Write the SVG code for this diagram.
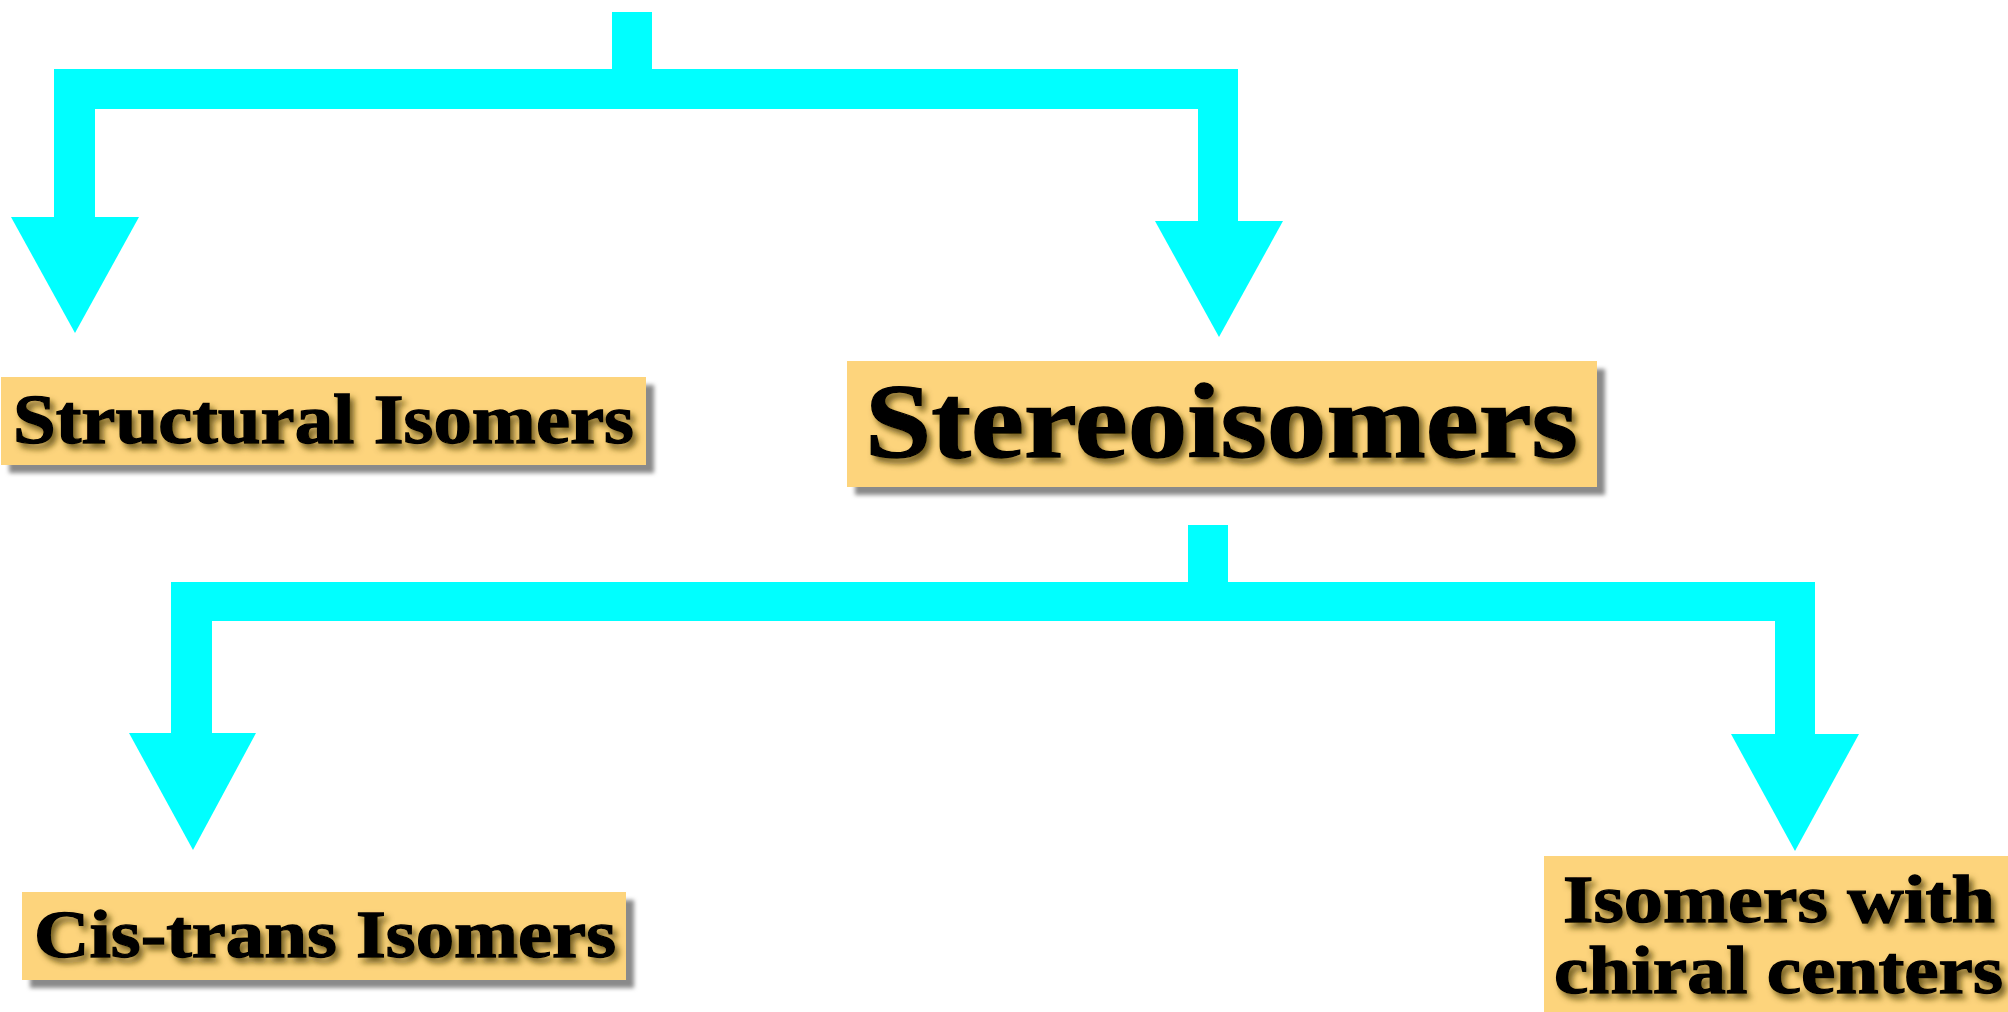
<svg xmlns="http://www.w3.org/2000/svg" width="2008" height="1012" viewBox="0 0 2008 1012">
<style>
.conn{fill:#00FFFF;stroke:none}
.box{fill:#FDD47B;filter:url(#boxsh)}
.lbl{font-family:"Liberation Serif","Times New Roman",serif;font-weight:bold;fill:#000;stroke:#000;stroke-width:1.3;filter:url(#txtsh)}
</style>
<defs>
<filter id="boxsh" x="-5%" y="-10%" width="115%" height="130%">
<feGaussianBlur in="SourceAlpha" stdDeviation="2"/>
<feOffset dx="8" dy="8" result="b"/>
<feFlood flood-color="#8a8a8a"/>
<feComposite in2="b" operator="in"/>
<feMerge><feMergeNode/><feMergeNode in="SourceGraphic"/></feMerge>
</filter>
<filter id="txtsh" x="-5%" y="-20%" width="115%" height="150%">
<feGaussianBlur in="SourceAlpha" stdDeviation="3"/>
<feOffset dx="4" dy="5" result="b"/>
<feFlood flood-color="#5a4a10" flood-opacity="0.85"/>
<feComposite in2="b" operator="in"/>
<feMerge><feMergeNode/><feMergeNode in="SourceGraphic"/></feMerge>
</filter>
</defs>
<rect width="2008" height="1012" fill="#fff"/>
<g id="connectors">
<rect class="conn" x="612" y="12" width="40" height="60"/>
<polygon class="conn" points="54,69 1238,69 1238,221 1198,221 1198,109 95,109 95,217 54,217"/>
<polygon class="conn" points="11,217 139,217 75,333"/>
<polygon class="conn" points="1155,221 1283,221 1219,337"/>
<rect class="conn" x="1188" y="525" width="40" height="60"/>
<polygon class="conn" points="171,582 1815,582 1815,734 1775,734 1775,621 212,621 212,733 171,733"/>
<polygon class="conn" points="129,733 256,733 193,850"/>
<polygon class="conn" points="1731,734 1859,734 1795,851"/>
</g>
<g id="node-structural">
<rect class="box" x="1" y="377" width="645" height="88"/>
<text class="lbl" x="13" y="443" font-size="69" textLength="621" lengthAdjust="spacingAndGlyphs">Structural Isomers</text>
</g>
<g id="node-stereo">
<rect class="box" x="847" y="361" width="750" height="126"/>
<text class="lbl" x="865" y="457" font-size="105" textLength="713" lengthAdjust="spacingAndGlyphs">Stereoisomers</text>
</g>
<g id="node-cistrans">
<rect class="box" x="22" y="892" width="604" height="88"/>
<text class="lbl" x="34" y="957" font-size="67" textLength="582" lengthAdjust="spacingAndGlyphs">Cis-trans Isomers</text>
</g>
<g id="node-chiral">
<rect class="box" x="1544" y="856" width="470" height="170"/>
<text class="lbl" x="1563" y="922" font-size="67" textLength="432" lengthAdjust="spacingAndGlyphs">Isomers with</text>
<text class="lbl" x="1554" y="993" font-size="67" textLength="449" lengthAdjust="spacingAndGlyphs">chiral centers</text>
</g>
</svg>
